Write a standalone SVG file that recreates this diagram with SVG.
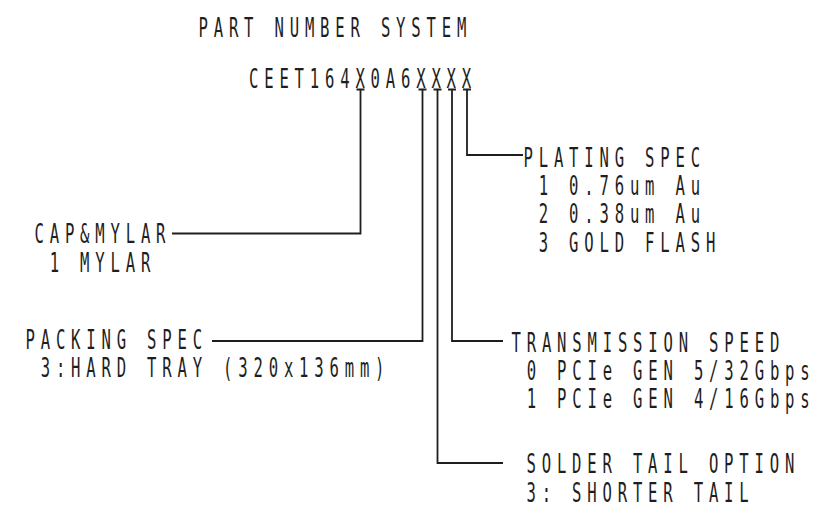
<svg xmlns="http://www.w3.org/2000/svg" width="826" height="518" viewBox="0 0 826 518">
<style>
.t{font-family:"DejaVu Sans Mono","Liberation Mono",monospace;font-size:26px;letter-spacing:9.68px;fill:#1e1e1e}
.c{fill:none;stroke:#1e1e1e;stroke-width:1.8}
</style>
<rect width="826" height="518" fill="#fff"/>
<g id="title"><text class="t" transform="translate(198.5,36.7) scale(0.6,1)">PART NUMBER SYSTEM</text></g>
<g id="part-number"><text class="t" transform="translate(249,88) scale(0.6,1)">CEET164X0A6XXXX</text></g>
<g id="connectors">
<path class="c" d="M356.5 89.5H364.5M418.5 89.5H426.5M433.5 89.5H441.5M448 89.5H456M463 89.5H471"/>
<path class="c" d="M360.5 89.5V233.5H172"/>
<path class="c" d="M422.5 89.5V341H212"/>
<path class="c" d="M437.5 89.5V463H503"/>
<path class="c" d="M452 89.5V341H503"/>
<path class="c" d="M467 89.5V155H523"/>
</g>
<g id="cap-mylar">
<text class="t" transform="translate(34.5,243.3) scale(0.6,1)">CAP&amp;MYLAR</text>
<text class="t" transform="translate(49.7,271.7) scale(0.6,1)">1 MYLAR</text>
</g>
<g id="packing-spec">
<text class="t" transform="translate(25.5,348.5) scale(0.6,1)">PACKING SPEC</text>
<text class="t" transform="translate(40.7,376.5) scale(0.6,1)">3:HARD TRAY (320x136mm)</text>
</g>
<g id="plating-spec">
<text class="t" transform="translate(523.5,166.5) scale(0.6,1)">PLATING SPEC</text>
<text class="t" transform="translate(538.7,194.8) scale(0.6,1)">1 0.76um Au</text>
<text class="t" transform="translate(538.7,223.2) scale(0.6,1)">2 0.38um Au</text>
<text class="t" transform="translate(538.7,251.6) scale(0.6,1)">3 GOLD FLASH</text>
</g>
<g id="transmission-speed">
<text class="t" transform="translate(511.5,351.7) scale(0.6,1)">TRANSMISSION SPEED</text>
<text class="t" transform="translate(526.7,380) scale(0.6,1)">0 PCIe GEN 5/32Gbps</text>
<text class="t" transform="translate(526.7,408.3) scale(0.6,1)">1 PCIe GEN 4/16Gbps</text>
</g>
<g id="solder-tail-option">
<text class="t" transform="translate(526.5,473.3) scale(0.6,1)">SOLDER TAIL OPTION</text>
<text class="t" transform="translate(526.5,501.7) scale(0.6,1)">3: SHORTER TAIL</text>
</g>
</svg>
